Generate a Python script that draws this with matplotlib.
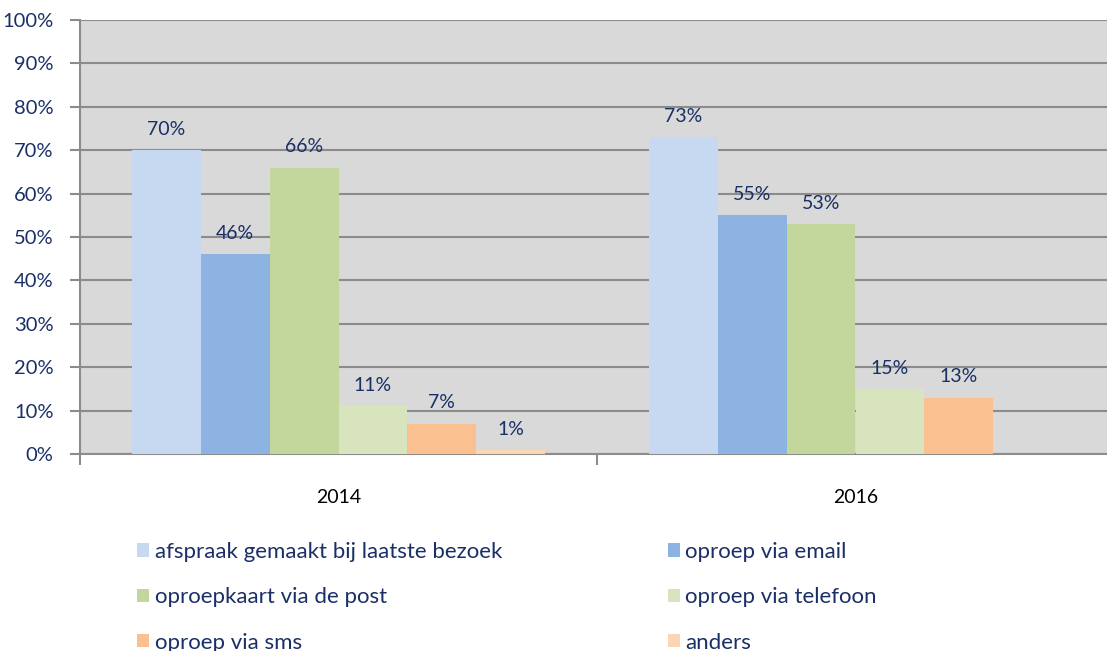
import numpy as np
import matplotlib.pyplot as plt
from matplotlib.ticker import FixedLocator

years = ["2014", "2016"]
series = [
    "afspraak gemaakt bij laatste bezoek",
    "oproep via email",
    "oproepkaart via de post",
    "oproep via telefoon",
    "oproep via sms",
    "anders",
]
values = [
    [70, 73],
    [46, 55],
    [66, 53],
    [11, 15],
    [7, 13],
    [1, None],
]
colors = ["#C6D9F1", "#8DB3E2", "#C3D69B", "#D7E4BD", "#FAC090", "#FCD5B5"]

text_color = "#1A2F66"
plt.rcParams["font.family"] = ["Lato", "DejaVu Sans"]

fig = plt.figure(figsize=(11.07, 6.51), dpi=100)
ax = fig.add_axes([80 / 1107, 197 / 651, 1034 / 1107, 434 / 651])
ax.set_facecolor("#D9D9D9")

x = np.arange(len(years))
n = len(series)
width = 0.8 / n
handles = []
for i, (name, vals, c) in enumerate(zip(series, values, colors)):
    xs = [xi for xi, v in zip(x, vals) if v is not None]
    vs = [v for v in vals if v is not None]
    pos = np.array(xs) - 0.4 + width * (i + 0.5)
    b = ax.bar(pos, vs, width, color=c, label=name, zorder=3)
    handles.append(b)
    for p, v in zip(pos, vs):
        ax.text(p, v + 2.8, f"{v}%", ha="center", va="bottom", fontsize=14,
                color=text_color, zorder=4)

ax.set_xlim(-0.5, 1.5)
ax.set_ylim(0, 100)
ax.set_yticks(range(0, 101, 10))
ax.set_yticklabels([f"{t}%" for t in range(0, 101, 10)])
ax.yaxis.grid(True, color="#8C8C8C", linewidth=1.5, zorder=1)
ax.set_axisbelow(True)

ax.set_xticks(x)
ax.set_xticklabels(years)
ax.xaxis.set_minor_locator(FixedLocator([-0.5, 0.5, 1.5]))
ax.tick_params(axis="x", which="major", length=0, pad=25, labelsize=14,
               labelcolor="#000000")
ax.tick_params(axis="x", which="minor", length=8, color="#8C8C8C", width=1.5)
ax.tick_params(axis="y", length=7, color="#8C8C8C", width=1.5, pad=12,
               labelsize=14.5, labelcolor=text_color)

for s in ["top", "right"]:
    ax.spines[s].set_visible(False)
for s in ["left", "bottom"]:
    ax.spines[s].set_color("#8C8C8C")
    ax.spines[s].set_linewidth(1.5)

# legend filled row by row
order = [0, 2, 4, 1, 3, 5]
leg = fig.legend([handles[k] for k in order], [series[k] for k in order],
                 ncol=2, loc="upper left", bbox_to_anchor=(128 / 1107, 1 - 533 / 651),
                 borderaxespad=0, frameon=False, fontsize=16, handlelength=0.55,
                 handleheight=0.55, handletextpad=0.25, columnspacing=7.45,
                 labelspacing=1.14, labelcolor=text_color)

fig.savefig("out.png", dpi=100)
